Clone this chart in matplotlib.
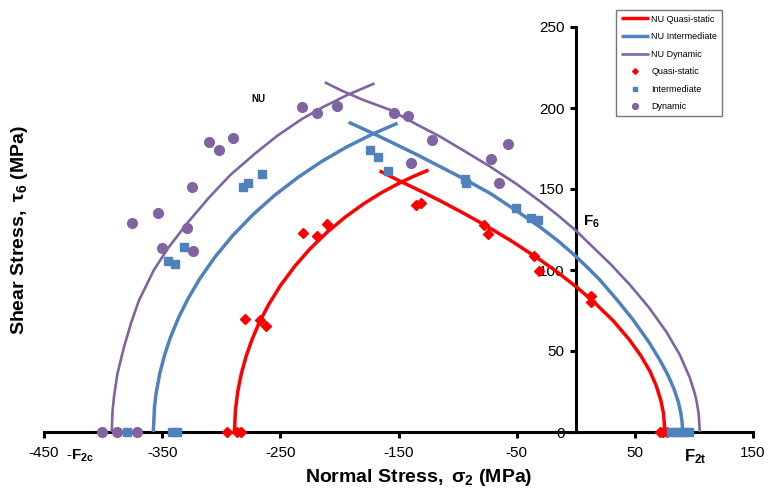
import matplotlib
matplotlib.use("Agg")
import matplotlib.pyplot as plt

plt.rcParams['font.family'] = ['Liberation Sans', 'DejaVu Sans']
plt.rcParams['mathtext.fontset'] = 'custom'
plt.rcParams['mathtext.rm'] = 'Liberation Sans'
plt.rcParams['mathtext.it'] = 'Liberation Sans:italic'
plt.rcParams['mathtext.bf'] = 'Liberation Sans:bold'

# ---------------- data ----------------
x_ticks = [-450, -350, -250, -150, -50, 50, 150]
y_ticks = [0, 50, 100, 150, 200, 250]

# Model envelopes: left (compression) branch and right (tension) branch
qs_left_x = [-288.8, -288.0, -286.0, -283.0, -279.0, -274.0, -268.0, -260.0, -250.0, -238.0,
             -225.0, -210.0, -195.0, -180.0, -165.0, -150.0, -137.0, -124.6]
qs_left_y = [0.0, 13.4, 25.1, 36.0, 46.6, 57.0, 67.3, 78.5, 90.3, 102.1,
             113.0, 123.6, 132.7, 140.6, 147.5, 153.4, 157.9, 161.7]
qs_right_x = [-166.0, -150.0, -130.0, -114.7, -95.0, -78.1, -55.0, -30.2, -15.0, 0.8,
              15.0, 31.8, 45.0, 55.0, 62.8, 68.0, 72.0, 74.3, 75.5]
qs_right_y = [161.2, 155.3, 148.3, 142.7, 135.1, 128.2, 118.2, 106.3, 98.4, 89.4,
              80.5, 68.6, 57.3, 47.2, 37.5, 28.8, 19.6, 11.4, 0.0]

im_left_x = [-357.5, -356.5, -355.0, -352.0, -348.0, -343.0, -336.0, -328.0, -318.0, -305.0,
             -290.0, -273.0, -255.0, -235.0, -215.0, -195.0, -172.0, -150.8]
im_left_y = [0.0, 15.5, 24.4, 36.2, 47.4, 58.4, 70.8, 82.4, 94.8, 108.3,
             121.5, 134.3, 146.0, 157.2, 167.0, 175.5, 183.9, 190.6]
im_right_x = [-192.2, -175.0, -156.9, -135.0, -114.7, -93.0, -72.4, -50.0, -30.2, -15.0,
              0.0, 10.0, 20.5, 35.0, 48.7, 62.0, 71.2, 78.0, 83.0, 86.5, 88.8, 90.0, 90.4]
im_right_y = [191.2, 185.5, 179.2, 171.4, 163.8, 155.6, 147.3, 136.5, 126.5, 118.0,
              108.5, 101.5, 93.8, 81.5, 69.1, 55.4, 44.4, 35.2, 26.8, 19.3, 12.3, 6.2, 0.0]

dy_left_x = [-392.7, -392.0, -390.8, -388.0, -382.3, -376.0, -369.6, -357.0, -345.0, -328.7,
             -310.0, -292.1, -272.0, -252.7, -232.0, -213.3, -193.5, -170.2]
dy_left_y = [0.0, 13.0, 21.5, 35.5, 52.5, 68.0, 81.3, 100.0, 113.5, 129.0,
             145.0, 158.8, 171.5, 182.8, 193.1, 200.8, 208.0, 215.2]
dy_right_x = [-212.4, -199.2, -180.0, -156.9, -135.0, -114.7, -93.0, -72.4, -50.0, -30.2,
              -15.0, 0.0, 14.9, 30.0, 45.9, 62.0, 76.9, 88.0, 96.6, 100.5, 102.3, 104.0, 105.0]
dy_right_y = [215.9, 211.1, 205.0, 198.8, 190.0, 182.3, 172.9, 163.8, 153.0, 142.4,
              133.7, 124.4, 113.9, 103.2, 90.8, 76.8, 61.6, 47.7, 33.4, 24.4, 18.8, 11.4, 0.0]

# Experimental points
qs_x = [-295.5, -286.7, -283.7, -280.1, -266.8, -262.3, -231.0, -218.9, -210.2,
        -135.0, -130.7, -77.5, -73.9, -35.0, -31.3, 12.5, 13.0, 71.0, 74.0, 77.0]
qs_y = [0, 0, 0, 69.6, 69.1, 65.4, 122.6, 121.2, 128.6,
        140.1, 141.5, 127.8, 122.2, 108.6, 99.6, 84.0, 80.5, 0, 0, 0]

im_x = [-380.0, -341.4, -337.2, -344.8, -339.2, -331.6, -281.2, -277.5, -265.1,
        -174.1, -167.1, -159.2, -94.1, -92.7, -50.5, -38.0, -31.6, 81.0, 85.0, 88.0, 92.0, 96.0]
im_y = [0, 0, 0, 105.6, 103.7, 114.2, 151.0, 153.5, 159.1,
        173.9, 169.8, 160.9, 156.0, 153.9, 138.1, 132.3, 130.7, 0, 0, 0, 0, 0]

dy_x = [-401.2, -388.5, -371.6, -375.6, -353.3, -324.5, -310.5, -302.3, -290.2, -329.1,
        -350.5, -324.0, -231.3, -218.6, -201.7, -154.1, -142.0, -121.7, -139.8, -71.6, -57.5, -65.1]
dy_y = [0, 0, 0, 129.0, 135.4, 151.2, 179.2, 174.3, 181.3, 126.1,
        113.8, 111.5, 200.8, 197.1, 201.4, 197.1, 195.3, 180.2, 166.2, 168.3, 177.6, 153.9]

RED = '#FF0000'
BLUE = '#4F81BD'
PURPLE = '#8064A2'

# ---------------- figure ----------------
fig = plt.figure(figsize=(7.69, 4.98), dpi=100)
ax = fig.add_axes([44 / 769, 66 / 498, (753 - 44) / 769, (432 - 27) / 498])

kw = dict(solid_capstyle='butt', solid_joinstyle='round')
l1, = ax.plot(qs_left_x, qs_left_y, color=RED, lw=2.5, label='NU Quasi-static', **kw)
ax.plot(qs_right_x, qs_right_y, color=RED, lw=2.5, **kw)
l2, = ax.plot(im_left_x, im_left_y, color=BLUE, lw=2.5, label='NU Intermediate', **kw)
ax.plot(im_right_x, im_right_y, color=BLUE, lw=2.5, **kw)
l3, = ax.plot(dy_left_x, dy_left_y, color=PURPLE, lw=1.9, label='NU Dynamic', **kw)
ax.plot(dy_right_x, dy_right_y, color=PURPLE, lw=1.9, **kw)

m1, = ax.plot(qs_x, qs_y, ls='none', marker='D', ms=4.8, color=RED, mec=RED, clip_on=False,
              zorder=3, label='Quasi-static')
m2, = ax.plot(im_x, im_y, ls='none', marker='s', ms=5.2, color=BLUE, mec=BLUE, clip_on=False,
              zorder=3, label='Intermediate')
m3, = ax.plot(dy_x, dy_y, ls='none', marker='o', ms=7, color=PURPLE, mec=PURPLE, clip_on=False,
              zorder=3, label='Dynamic')

ax.set_xlim(-450, 150)
ax.set_ylim(0, 250)
ax.set_xticks(x_ticks)
ax.set_xticklabels([str(v) for v in x_ticks])
ax.set_yticks(y_ticks)
ax.set_yticklabels([str(v) for v in y_ticks])

for s in ['top', 'right']:
    ax.spines[s].set_visible(False)
ax.spines['left'].set_position(('data', 0))
ax.spines['bottom'].set_position(('data', 0))
for s in ['left', 'bottom']:
    ax.spines[s].set_linewidth(2.2)
    ax.spines[s].set_zorder(1)
ax.tick_params(axis='both', direction='out', length=4, width=2.2, labelsize=11, pad=4)
ax.tick_params(axis='x', pad=6)

fig.text(419 / 769, 1 - 477 / 498, r'$\mathbf{Normal\ Stress,\ \sigma_2\ (MPa)}$',
         ha='center', va='center', fontsize=14)
fig.text(20 / 769, 1 - 230 / 498, r'$\mathbf{Shear\ Stress,\ \tau_6\ (MPa)}$',
         ha='center', va='center', fontsize=14, rotation=90)

ax.text(-268.5, 205.5, 'NU', fontsize=7, fontweight='bold', ha='center', va='center')
ax.text(6.0, 130.0, r'$\mathbf{F_6}$', fontsize=11, ha='left', va='center')
ax.text(-431.0, -14.5, r'$\mathbf{\text{-}F_{2c}}$', fontsize=11, ha='left', va='center', clip_on=False)
ax.text(92.0, -15.5, r'$\mathbf{F_{2t}}$', fontsize=12, ha='left', va='center', clip_on=False)

leg = fig.legend(handles=[l1, l2, l3, m1, m2, m3], loc='upper left',
                 bbox_to_anchor=(616 / 769, 1 - 10 / 498), fontsize=6.5, frameon=True,
                 fancybox=False, edgecolor='#555555', handlelength=3.2, handletextpad=0.2,
                 labelspacing=0.95, borderpad=0.5, borderaxespad=0, markerscale=0.6)
leg.get_frame().set_linewidth(1.0)

fig.savefig('out.png', dpi=100)
